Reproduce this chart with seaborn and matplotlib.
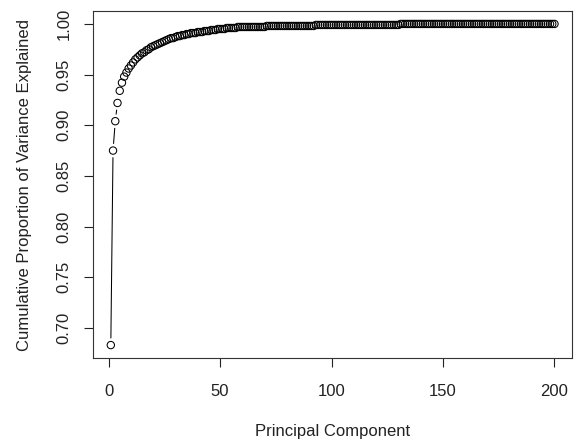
import numpy as np
import pandas as pd
import seaborn as sns
import matplotlib
matplotlib.use("Agg")
import matplotlib.pyplot as plt

# valores (proporcion acumulada de varianza)
cum_var = [
    0.683, 0.875, 0.904, 0.922, 0.934, 0.942, 0.948, 0.952, 0.956, 0.959,
    0.962, 0.965, 0.967, 0.969, 0.971, 0.972, 0.974, 0.975, 0.977, 0.978,
    0.979, 0.980, 0.981, 0.982, 0.983, 0.984, 0.985, 0.986, 0.986, 0.987,
    0.988, 0.988, 0.989, 0.989, 0.990, 0.990, 0.991, 0.991, 0.991, 0.992,
    0.992, 0.992, 0.993, 0.993, 0.993, 0.994, 0.994, 0.994, 0.995, 0.995,
    0.995, 0.995, 0.996, 0.996, 0.996, 0.996, 0.996, 0.997, 0.997, 0.997,
    0.997, 0.997, 0.997, 0.997, 0.997, 0.997, 0.997, 0.997, 0.997, 0.997,
    0.998, 0.998, 0.998, 0.998, 0.998, 0.998, 0.998, 0.998, 0.998, 0.998,
    0.998, 0.998, 0.998, 0.998, 0.998, 0.998, 0.998, 0.998, 0.998, 0.998,
    0.998, 0.998, 0.999, 0.999, 0.999, 0.999, 0.999, 0.999, 0.999, 0.999,
    0.999, 0.999, 0.999, 0.999, 0.999, 0.999, 0.999, 0.999, 0.999, 0.999,
    0.999, 0.999, 0.999, 0.999, 0.999, 0.999, 0.999, 0.999, 0.999, 0.999,
    0.999, 0.999, 0.999, 0.999, 0.999, 0.999, 0.999, 0.999, 0.999, 0.999,
    1.000, 1.000, 1.000, 1.000, 1.000, 1.000, 1.000, 1.000, 1.000, 1.000,
    1.000, 1.000, 1.000, 1.000, 1.000, 1.000, 1.000, 1.000, 1.000, 1.000,
    1.000, 1.000, 1.000, 1.000, 1.000, 1.000, 1.000, 1.000, 1.000, 1.000,
    1.000, 1.000, 1.000, 1.000, 1.000, 1.000, 1.000, 1.000, 1.000, 1.000,
    1.000, 1.000, 1.000, 1.000, 1.000, 1.000, 1.000, 1.000, 1.000, 1.000,
    1.000, 1.000, 1.000, 1.000, 1.000, 1.000, 1.000, 1.000, 1.000, 1.000,
    1.000, 1.000, 1.000, 1.000, 1.000, 1.000, 1.000, 1.000, 1.000, 1.000,
]
components = list(range(1, len(cum_var) + 1))
x_ticks = [0, 50, 100, 150, 200]
y_ticks = [0.70, 0.75, 0.80, 0.85, 0.90, 0.95, 1.00]

df = pd.DataFrame({"pc": components, "cum": cum_var})

sns.set_style("ticks")
plt.rcParams["font.family"] = ["Liberation Sans", "DejaVu Sans"]

fig = plt.figure(figsize=(5.78, 4.43), dpi=100)
ax = fig.add_axes([0.161, 0.192, 0.829, 0.783])

# estilo type="b" de R: linea, hueco blanco, circulo abierto
sns.lineplot(data=df, x="pc", y="cum", ax=ax, color="black", linewidth=0.75, zorder=1)
sns.scatterplot(data=df, x="pc", y="cum", ax=ax, s=95, color="white",
                edgecolor="none", linewidth=0, zorder=2)
sns.scatterplot(data=df, x="pc", y="cum", ax=ax, s=28, facecolor="none",
                edgecolor="black", linewidth=0.75, zorder=3)

ax.set_xlim(-6.96, 207.96)
ax.set_ylim(0.6703, 1.0127)
ax.set_xticks(x_ticks)
ax.set_yticks(y_ticks)
ax.set_yticklabels([f"{v:.2f}" for v in y_ticks], rotation=90, va="center")
ax.tick_params(axis="both", labelsize=12, length=6.5, width=0.8, colors="#222222")
ax.tick_params(axis="x", pad=12)
ax.tick_params(axis="y", pad=9)
for s in ax.spines.values():
    s.set_visible(True)
    s.set_linewidth(0.8)
    s.set_color("#333333")

ax.set_xlabel("Principal Component", fontsize=12, labelpad=18, color="#222222")
ax.set_ylabel("Cumulative Proportion of Variance Explained", fontsize=12,
              labelpad=18, color="#222222")

fig.savefig("out.png", dpi=100)
